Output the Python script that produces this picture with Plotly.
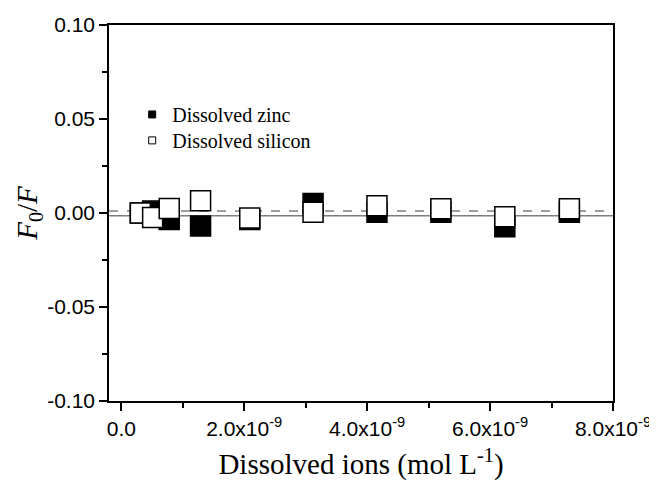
import numpy as np
import plotly.graph_objects as go

# Data (x in mol/L, y = F0/F)
x_vals = [0.31e-9, 0.51e-9, 0.78e-9, 1.29e-9, 2.09e-9, 3.12e-9, 4.16e-9, 5.20e-9, 6.24e-9, 7.29e-9]
zinc = [0.0000, 0.0010, -0.0035, -0.0069, -0.0035, 0.0050, 0.0004, 0.0004, -0.0073, 0.0004]
silicon = [0.0000, -0.0024, 0.0024, 0.0065, -0.0027, 0.0004, 0.0038, 0.0022, -0.0020, 0.0022]

x_tickvals = [0, 2e-9, 4e-9, 6e-9, 8e-9]
x_ticktext = ["0.0", "2.0x10<sup>-9</sup>", "4.0x10<sup>-9</sup>", "6.0x10<sup>-9</sup>", "8.0x10<sup>-9</sup>"]
y_tickvals = [-0.10, -0.05, 0.00, 0.05, 0.10]
y_ticktext = ["-0.10", "-0.05", "0.00", "0.05", "0.10"]

zinc_mean = float(np.mean(zinc))
silicon_mean = float(np.mean(silicon))

fig = go.Figure()

# data traces (no legend)
fig.add_trace(go.Scatter(x=x_vals, y=zinc, mode="markers", showlegend=False,
                         marker=dict(symbol="square", size=20, color="black",
                                     line=dict(color="black", width=1.5))))
fig.add_trace(go.Scatter(x=x_vals, y=silicon, mode="markers", showlegend=False,
                         marker=dict(symbol="square", size=20, color="white",
                                     line=dict(color="black", width=1.5))))
# legend entries
fig.add_trace(go.Scatter(x=[None], y=[None], mode="markers", name="Dissolved zinc",
                         legend="legend",
                         marker=dict(symbol="square", size=7, color="black",
                                     line=dict(color="black", width=1))))
fig.add_trace(go.Scatter(x=[None], y=[None], mode="markers", name="Dissolved silicon",
                         legend="legend2",
                         marker=dict(symbol="square", size=7, color="white",
                                     line=dict(color="black", width=1))))

# mean lines
fig.add_shape(type="line", xref="paper", x0=0, x1=1, yref="y", y0=zinc_mean, y1=zinc_mean,
              line=dict(color="#7f7f7f", width=1.5), layer="below")
fig.add_shape(type="line", xref="paper", x0=0, x1=1, yref="y", y0=silicon_mean, y1=silicon_mean,
              line=dict(color="#7f7f7f", width=1.5, dash="dash"), layer="below")

legend_common = dict(xanchor="left", yanchor="top", bgcolor="rgba(0,0,0,0)", borderwidth=0,
                     font=dict(family="Liberation Serif", size=20, color="black"),
                     itemwidth=30)

fig.update_layout(
    width=657, height=482,
    margin=dict(l=101, r=52, t=17, b=89),
    paper_bgcolor="white", plot_bgcolor="white",
    showlegend=True,
    legend=dict(x=0.046, y=0.814, **legend_common),
    legend2=dict(x=0.046, y=0.745, **legend_common),
    xaxis=dict(range=[-0.2e-9, 8e-9], tickvals=x_tickvals, ticktext=x_ticktext, automargin=False,
               showgrid=False, zeroline=False, showline=True, linecolor="black", linewidth=1.5,
               mirror=True, ticks="outside", ticklen=8, tickwidth=1.5, tickcolor="black",
               minor=dict(dtick=1e-9, tick0=0, ticks="outside", ticklen=5, tickwidth=1.5, tickcolor="black"),
               tickfont=dict(family="Liberation Sans", size=21, color="black"),
               title=dict(text="Dissolved ions (mol L<sup>-1</sup>)",
                          font=dict(family="Liberation Serif", size=29, color="black"), standoff=15)),
    yaxis=dict(range=[-0.10, 0.10], tickvals=y_tickvals, ticktext=y_ticktext, automargin=False,
               showgrid=False, zeroline=False, showline=True, linecolor="black", linewidth=1.5,
               mirror=True, ticks="outside", ticklen=8, tickwidth=1.5, tickcolor="black",
               minor=dict(dtick=0.025, tick0=0, ticks="outside", ticklen=5, tickwidth=1.5, tickcolor="black"),
               tickfont=dict(family="Liberation Sans", size=21, color="black"),
               title=dict(text="<i>F</i><sub>0</sub>/<i>F</i>",
                          font=dict(family="Liberation Serif", size=29, color="black"), standoff=1)),
)

fig.write_html("out.html")
